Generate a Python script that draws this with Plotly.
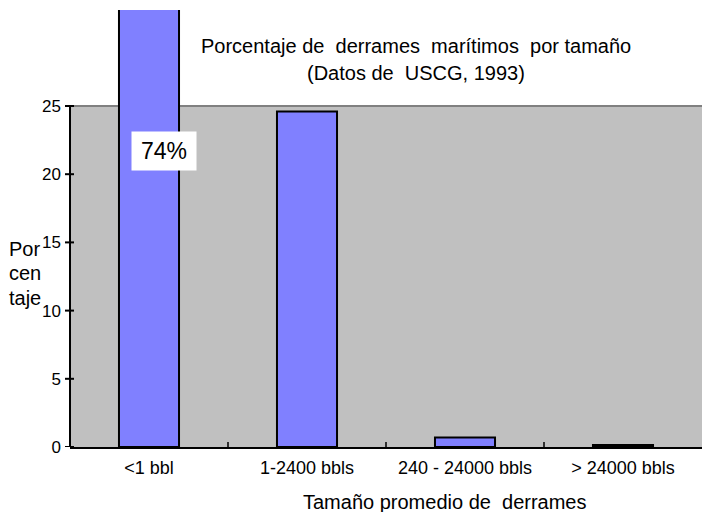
import plotly.graph_objects as go

categories = ["<1 bbl", "1-2400 bbls", "240 - 24000 bbls", "> 24000 bbls"]
percentages = [74, 24.6, 0.7, 0.15]
y_ticks = [0, 5, 10, 15, 20, 25]
gray_top = 25
first_label = "74%"

FONT = "Liberation Sans, Arial, sans-serif"
W, H = 702, 512
ML, MR, MT, MB = 70, 0, 10, 65
plot_h = H - MT - MB
plot_w = W - ML - MR

def py(pixel_y):
    return (H - MB - pixel_y) / plot_h

def px(pixel_x):
    return (pixel_x - ML) / plot_w

fig = go.Figure()
fig.add_trace(go.Bar(
    x=categories, y=percentages,
    marker=dict(color="#8080ff", line=dict(color="black", width=2)),
    width=0.38, hoverinfo="skip",
))

shapes = []
shapes.append(dict(type="rect", xref="paper", yref="y", x0=0, x1=1, y0=0, y1=gray_top,
                   fillcolor="#c0c0c0", line=dict(width=0), layer="below"))
shapes.append(dict(type="line", xref="paper", yref="y", x0=0, x1=1, y0=gray_top, y1=gray_top,
                   line=dict(color="#808080", width=2), layer="below"))
shapes.append(dict(type="line", xref="paper", yref="y", x0=0, x1=0, y0=0, y1=gray_top,
                   line=dict(color="black", width=2)))
for v in y_ticks:
    shapes.append(dict(type="line", xref="paper", yref="y", xsizemode="pixel", xanchor=0,
                       x0=-5, x1=4, y0=v, y1=v, line=dict(color="black", width=2)))
for i in range(len(categories) - 1):
    shapes.append(dict(type="line", xref="x", yref="y", ysizemode="pixel", yanchor=0,
                       x0=i + 0.5, x1=i + 0.5, y0=-5, y1=5, line=dict(color="black", width=1.5)))
shapes.append(dict(type="line", xref="paper", yref="y", ysizemode="pixel", yanchor=0,
                   x0=0, x1=0, y0=-5, y1=0, line=dict(color="black", width=2)))

annotations = [
    dict(text="Porcentaje de&nbsp; derrames&nbsp; marítimos&nbsp; por tamaño", xref="paper", yref="paper",
         x=px(416), y=py(46), showarrow=False, xanchor="center", yanchor="middle",
         font=dict(family=FONT, size=20, color="black")),
    dict(text="(Datos de&nbsp; USCG, 1993)", xref="paper", yref="paper",
         x=px(416), y=py(73), showarrow=False, xanchor="center", yanchor="middle",
         font=dict(family=FONT, size=20, color="black")),
    dict(text="Tamaño promedio de&nbsp; derrames", xref="paper", yref="paper",
         x=px(444), y=py(502), showarrow=False, xanchor="center", yanchor="middle",
         font=dict(family=FONT, size=20, color="black")),
    dict(text=first_label, xref="x", yref="paper", x=categories[0], xshift=15, y=py(151),
         showarrow=False, bgcolor="white", width=62, height=36, xanchor="center", yanchor="middle",
         font=dict(family=FONT, size=23, color="black")),
]
for txt, ypix in [("Por", 249), ("cen", 273), ("taje", 298)]:
    annotations.append(dict(text=txt, xref="paper", yref="paper", x=px(7),
                            xanchor="left", yanchor="middle", y=py(ypix), showarrow=False,
                            font=dict(family=FONT, size=20, color="black")))

fig.update_layout(
    width=W, height=H,
    margin=dict(l=ML, r=MR, t=MT, b=MB),
    paper_bgcolor="white", plot_bgcolor="white",
    showlegend=False, bargap=0.62,
    shapes=shapes, annotations=annotations,
    font=dict(family=FONT, color="black"),
)
fig.update_xaxes(showline=True, linecolor="black", linewidth=2, ticks="",
                 tickfont=dict(family=FONT, size=18, color="black"),
                 showgrid=False, zeroline=False, ticklabelstandoff=3)
fig.update_yaxes(range=[0, (H - MB - MT) / ((H - MB - 106) / gray_top)],
                 tickvals=y_ticks, ticks="", showline=False, showgrid=False, zeroline=False,
                 tickfont=dict(family=FONT, size=17, color="black"), ticklabelstandoff=8)

fig.write_html("out.html", config={"displayModeBar": False},
               post_script="document.body.style.margin='0';document.body.style.overflow='hidden';")
